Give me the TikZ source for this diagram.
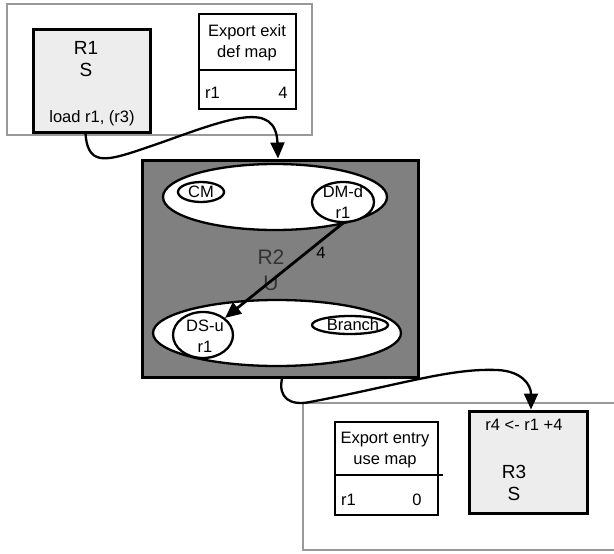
\documentclass[tikz,border=0pt]{standalone}
\usepackage{fontspec}
\setmainfont{Liberation Sans}
\usetikzlibrary{positioning, shapes.geometric, arrows.meta, calc}
\tikzset{
    region/.style={draw=black!40, line width=2.5pt},
    block/.style={draw, line width=3pt, fill=black!7, inner sep=0pt},
    mapbox/.style={draw, line width=2.5pt, inner sep=0pt},
    setell/.style={ellipse, draw, line width=2.3pt, fill=white, inner sep=0pt},
    txt/.style={font=\fontsize{16.5}{21}\selectfont, inner sep=0pt, align=center},
    rlabel/.style={font=\fontsize{19}{22}\selectfont, inner sep=0pt, align=center},
    ptr/.style={-{Triangle[length=16pt, width=14pt]}, line width=2.3pt}
}

\begin{document}
\begin{tikzpicture}[x=1pt, y=-1pt]
    \useasboundingbox (0,0) rectangle (614,554);

    % upper region
    \draw[region] (7,4) rectangle (312,135);
    \node[block, minimum width=117pt, minimum height=103pt] (r1) at (91.5,80.5) {};
    \node[rlabel] (r1name) at (86,59) {R1\\S};
    \node[txt] (r1load) at (92,118) {load r1, (r3)};

    \node[mapbox, minimum width=97pt, minimum height=95pt] (exitmap) at (247.5,61.5) {};
    \draw[line width=2.5pt] ($(exitmap.north west)+(0,57)$) -- ($(exitmap.north east)+(0,57)$);
    \node[txt] (exittitle) at (247,43) {Export exit\\ def map};
    \node[txt, anchor=west] (exitreg) at (205,93) {r1};
    \node[txt] (exitval) at (283,93) {4};

    % middle region
    \node[draw, line width=3pt, fill=black!50, minimum width=276pt, minimum height=217pt] (r2) at (280,268.5) {};
    \node[setell, minimum width=224pt, minimum height=66pt] (upper) at (275,197) {};
    \node[setell, minimum width=46pt, minimum height=20pt] (cm) at (201,192) {};
    \node[txt] at (cm) {CM};
    \node[setell, minimum width=62pt, minimum height=40pt] (dmd) at (343,202) {};
    \node[txt] at (dmd) {DM-d\\r1};

    \node[setell, minimum width=248pt, minimum height=66pt] (lower) at (277,333) {};
    \node[setell, minimum width=60pt, minimum height=46pt] (dsu) at (203,335) {};
    \node[txt] at ([xshift=2pt, yshift=-1pt]dsu) {DS-u\\r1};
    \node[setell, minimum width=76pt, minimum height=18pt] (branch) at (350,325) {};
    \node[txt] at ([xshift=3pt]branch) {Branch};

    \node[rlabel, text=black!80, font=\fontsize{21}{26}\selectfont] (r2name) at (271,270) {R2\\U};
    \node[txt] (depval) at (321,253) {4};
    \draw[ptr, line width=2.8pt] (dmd.south) -- (dsu.north east);

    % lower region
    \draw[region] (620,403) -- (303,403) -- (303,550) -- (620,550);
    \node[mapbox, minimum width=103pt, minimum height=93pt] (entrymap) at (386.5,468.5) {};
    \draw[line width=2.5pt] ($(entrymap.north west)+(0,54)$) -- ($(entrymap.north east)+(4,54)$);
    \node[txt] (entrytitle) at (385,450.5) {Export entry\\use map};
    \node[txt, anchor=west] (entryreg) at (341,500) {r1};
    \node[txt] (entryval) at (417,500) {0};

    \node[block, minimum width=118pt, minimum height=102pt] (r3) at (528,462) {};
    \node[txt] (r3instr) at (524,425) {r4 <- r1 +4};
    \node[rlabel] (r3name) at (514,483) {R3\\S};

    % flow between regions
    \draw[ptr] ([xshift=-6pt]r1.south) .. controls (88,170) and (110,160) .. (160,143)
        .. controls (230,118) and (276,100) .. ([xshift=-2pt]r2.north);
    \draw[ptr] ([xshift=2pt]r2.south) .. controls (278,398) and (290,406) .. (310,402)
        .. controls (400,385) and (450,368) .. (497,370)
        .. controls (522,371) and (531,385) .. ([xshift=3pt]r3.north);
\end{tikzpicture}
\end{document}
